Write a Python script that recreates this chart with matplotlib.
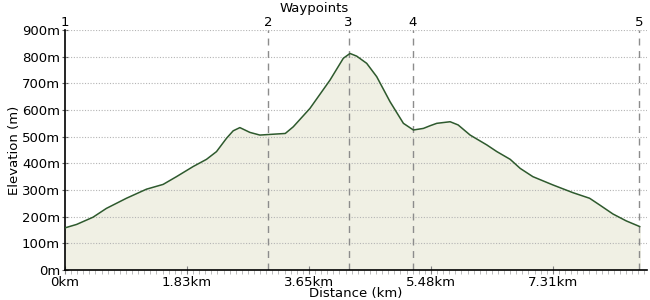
import numpy as np
import matplotlib
matplotlib.use("Agg")
import matplotlib.pyplot as plt
from matplotlib.ticker import MultipleLocator

# elevation profile (km, m)
dist_km = [0.0, 0.175, 0.42, 0.62, 0.92, 1.22, 1.47, 1.67, 1.92, 2.12,
           2.27, 2.42, 2.52, 2.62, 2.77, 2.92, 3.17, 3.30, 3.42, 3.67,
           3.97, 4.17, 4.27, 4.37, 4.52, 4.67, 4.87, 5.07, 5.22, 5.37,
           5.47, 5.57, 5.77, 5.89, 6.07, 6.32, 6.47, 6.67, 6.82, 7.01,
           7.31, 7.61, 7.86, 8.01, 8.21, 8.41, 8.61]
elev_m = [158, 171, 198, 231, 269, 303, 321, 350, 388, 415,
          444, 494, 522, 534, 516, 506, 510, 512, 537, 606,
          712, 794, 812, 802, 775, 725, 631, 550, 525, 531,
          541, 550, 556, 544, 506, 469, 444, 415, 381, 350,
          319, 290, 269, 244, 210, 184, 163]

waypoint_km = [0.0, 3.04, 4.25, 5.21, 8.60]
waypoint_names = ["1", "2", "3", "4", "5"]

xtick_km = [0, 1.8275, 3.655, 5.4825, 7.31]
xtick_labels = ["0km", "1.83km", "3.65km", "5.48km", "7.31km"]
ytick_m = [0, 100, 200, 300, 400, 500, 600, 700, 800, 900]

plt.rcParams["font.family"] = "DejaVu Sans"
fig = plt.figure(figsize=(6.5, 3.0), dpi=100)
ax = fig.add_axes([65 / 650, 30 / 300, 582 / 650, 240 / 300])

ax.fill_between(dist_km, elev_m, 0, color="#f0f0e4", zorder=1)
ax.plot(dist_km, elev_m, color="#2e5a2e", lw=1.1, zorder=3,
        solid_joinstyle="round")

for m in ytick_m[1:]:
    ax.axhline(m, color="#b4b4b4", lw=0.8, ls=(0, (1, 1.5)), zorder=2)
for w in waypoint_km[1:]:
    ax.axvline(w, color="#8c8c8c", lw=1.0, ls=(0, (5, 4)), zorder=2)

ax.set_xlim(0, 8.72)
ax.set_ylim(0, 900)
ax.spines["top"].set_visible(False)
ax.spines["right"].set_visible(False)
ax.spines["left"].set_linewidth(1.2)
ax.spines["bottom"].set_linewidth(1.2)

ax.set_xticks(xtick_km)
ax.set_xticklabels(xtick_labels, fontsize=9.5)
ax.xaxis.set_minor_locator(MultipleLocator(1.8275 / 20))
ax.tick_params(axis="x", which="major", direction="inout", length=6, color="#808080", pad=1)
ax.tick_params(axis="x", which="minor", direction="out", length=3, color="#b0b0b0")
ax.set_yticks(ytick_m)
ax.set_yticklabels([f"{m}m" for m in ytick_m], fontsize=9.5)
ax.tick_params(axis="y", direction="inout", length=5, color="#606060", pad=1)

ax.set_xlabel("Distance (km)", fontsize=9.5, labelpad=-1)
ax.set_ylabel("Elevation (m)", fontsize=9.5, labelpad=1)

for w, n in zip(waypoint_km, waypoint_names):
    ax.text(w, 903, n, ha="center", va="bottom", fontsize=9.5)
ax.text(3.73, 958, "Waypoints", ha="center", va="bottom", fontsize=9.5)

fig.savefig("out.png", dpi=100)
